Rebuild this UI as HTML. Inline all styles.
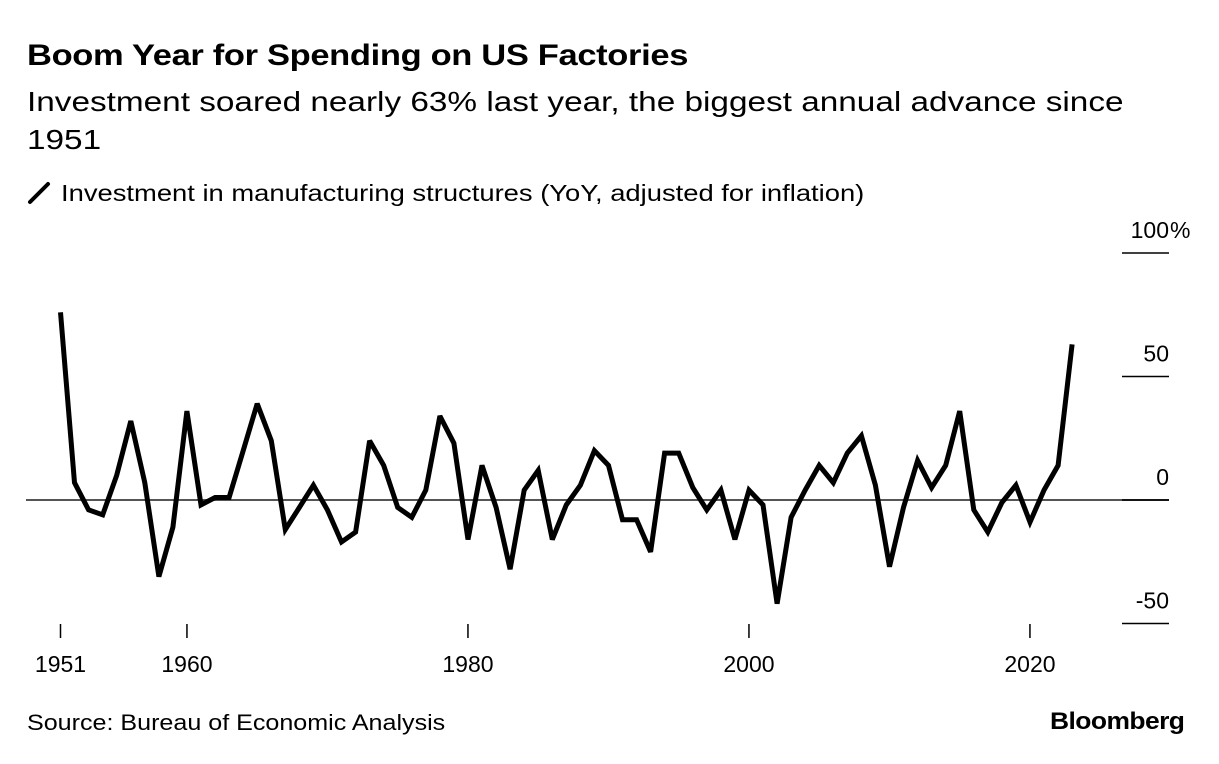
<!DOCTYPE html>
<html><head><meta charset="utf-8"><style>
body{margin:0;background:#fff;font-family:"Liberation Sans",sans-serif;}
#wrap{position:relative;width:1219px;height:764px;overflow:hidden;}
.t{position:absolute;white-space:nowrap;color:#000;transform-origin:left top;}
</style></head><body>
<div id="wrap">
<div class="t" style="left:27px;top:39px;font-size:30px;font-weight:bold;letter-spacing:-0.3px;transform:scaleX(1.15);">Boom Year for Spending on US Factories</div>
<div class="t" style="left:27px;top:83px;font-size:28px;line-height:38px;transform:scaleX(1.19);">Investment soared nearly 63% last year, the biggest annual advance since<br>1951</div>
<div class="t" style="left:27px;top:180px;font-size:23px;"><svg width="24" height="24" style="vertical-align:-4px;margin-right:10px"><line x1="3" y1="21" x2="21" y2="3" stroke="#000" stroke-width="4" stroke-linecap="round"/></svg><span style="display:inline-block;transform:scaleX(1.19);transform-origin:left center">Investment in manufacturing structures (YoY, adjusted for inflation)</span></div>
<svg id="chart" width="1219" height="764" style="position:absolute;left:0;top:0"></svg>
<div class="t" style="left:27px;top:710px;font-size:22px;transform:scaleX(1.14);">Source: Bureau of Economic Analysis</div>
<div class="t" style="left:1050px;top:708px;font-size:24px;font-weight:bold;letter-spacing:-0.5px;transform:scaleX(1.1);">Bloomberg</div>
</div>
<script>
const years=[];for(let y=1951;y<=2023;y++)years.push(y);
const values=[76,7,-4,-6,10,32,7,-31,-11,36,-2,1,1,20,39,24,-12,-3,6,-4,-17,-13,24,14,-3,-7,4,34,23,-16,14,-3,-28,4,12,-16,-2,6,20,14,-8,-8,-21,19,19,5,-4,4,-16,4,-2,-42,-7,4,14,7,19,26,6,-27,-3,16,5,14,36,-4,-13,-1,6,-9,4,14,63];
const yTicks=[100,50,0,-50];
const yTickLabels=["100%","50","0","-50"];
const xTicks=[1951,1960,1980,2000,2020];
const NS="http://www.w3.org/2000/svg";
const svg=document.getElementById('chart');
const xs=y=>60.5+(y-1951)*14.05;
const ys=v=>500-v*2.47;
function mk(t,a){const e=document.createElementNS(NS,t);for(const k in a)e.setAttribute(k,a[k]);svg.appendChild(e);return e;}
const zl=mk('line',{x1:26,x2:1169,y1:ys(0),y2:ys(0),stroke:'#555',"stroke-width":2});


yTicks.forEach((v,i)=>{
 const g=mk('line',{x1:1122,x2:1169,y1:ys(v),y2:ys(v),stroke:'#000',"stroke-width":1.6});
 
 
 const t=mk('text',{x:1169,y:ys(v)-15,"font-size":23,"font-family":"Liberation Sans, sans-serif","text-anchor":"end"});
 t.textContent=yTickLabels[i].replace('%','');
 
 
 if(yTickLabels[i].includes('%')){const p=mk('text',{x:1170,y:ys(v)-15,"font-size":23,"font-family":"Liberation Sans, sans-serif"});p.textContent='%';
 
 }
});
xTicks.forEach(y=>{
 const l=mk('line',{x1:xs(y),x2:xs(y),y1:624,y2:638,stroke:'#000',"stroke-width":1.5});
 
 
 const t=mk('text',{x:xs(y),y:672,"font-size":23,"font-family":"Liberation Sans, sans-serif","text-anchor":"middle"});
 t.textContent=y;
 
 
});
const d=years.map((y,i)=>(i?'L':'M')+xs(y).toFixed(1)+','+ys(values[i]).toFixed(1)).join('');
const path=mk('path',{d:d,fill:'none',stroke:'#000',"stroke-width":5,"stroke-linejoin":"miter","stroke-miterlimit":3});


</script>
</body></html>
